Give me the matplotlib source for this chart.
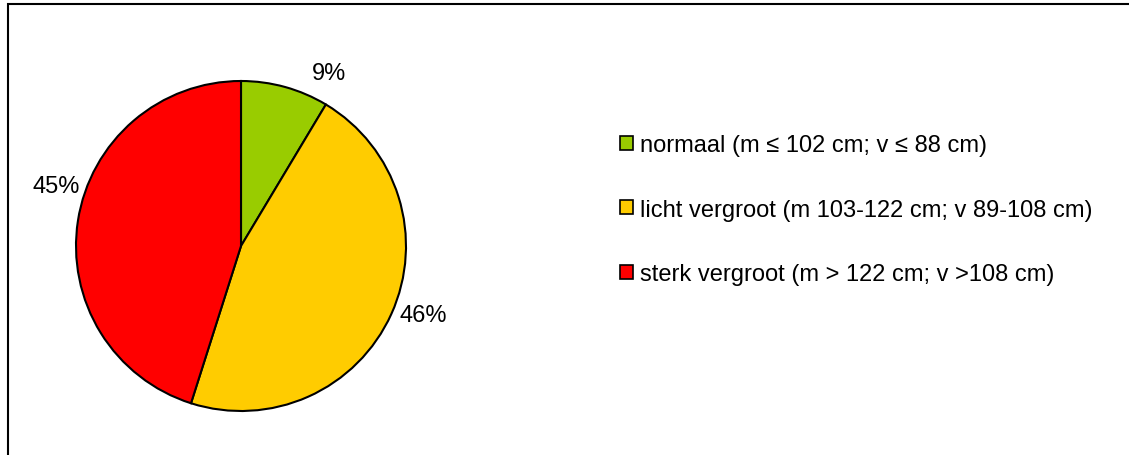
import numpy as np
import matplotlib
matplotlib.use("Agg")
import matplotlib.pyplot as plt
from matplotlib.patches import Patch, Rectangle

plt.rcParams['font.family'] = ['Liberation Sans', 'DejaVu Sans']

# data
categories = ["normaal (m \u2264 102 cm; v \u2264 88 cm)",
              "licht vergroot (m 103-122 cm; v 89-108 cm)",
              "sterk vergroot (m > 122 cm; v >108 cm)"]
shares = [8.6, 46.3, 45.1]
pct_labels = ["9%", "46%", "45%"]
colors = ["#99CC00", "#FFCC00", "#FF0000"]

# label placement (angle in degrees, radius in pie units)
label_angles = [63, -20.6, 162]
label_radius = 1.18

W, H = 1129, 456
fig = plt.figure(figsize=(W / 100, H / 100), dpi=100)

# frame around the chart area (left + top visible)
fig.add_artist(Rectangle((8 / W, -0.1), 1.2, 1.1 - 5 / H, transform=fig.transFigure,
                         fill=False, edgecolor="black", linewidth=1.5))

cx, cy, r = 241, 247, 165
ax = fig.add_axes([(cx - r) / W, (H - cy - r) / H, 2 * r / W, 2 * r / H])
wedges, texts = ax.pie(shares, colors=colors, startangle=90, counterclock=False,
                       radius=1, wedgeprops=dict(edgecolor="black", linewidth=1.5))
ax.set_xlim(-1, 1)
ax.set_ylim(-1, 1)
ax.set_aspect('equal')
ax.axis('off')

for lbl, ang in zip(pct_labels, label_angles):
    a = np.deg2rad(ang)
    ax.text(label_radius * np.cos(a), label_radius * np.sin(a), lbl,
            ha='center', va='center', fontsize=17, clip_on=False)

handles = [Patch(facecolor=c, edgecolor="black", linewidth=1.2) for c in colors]
fig.legend(handles, categories, loc='upper left',
           bbox_to_anchor=(620 / W, 1 - 135 / H), frameon=False, fontsize=17,
           handlelength=0.55, handleheight=0.55, handletextpad=0.3,
           labelspacing=1.8, borderpad=0, borderaxespad=0)

fig.savefig("out.png", dpi=100)
